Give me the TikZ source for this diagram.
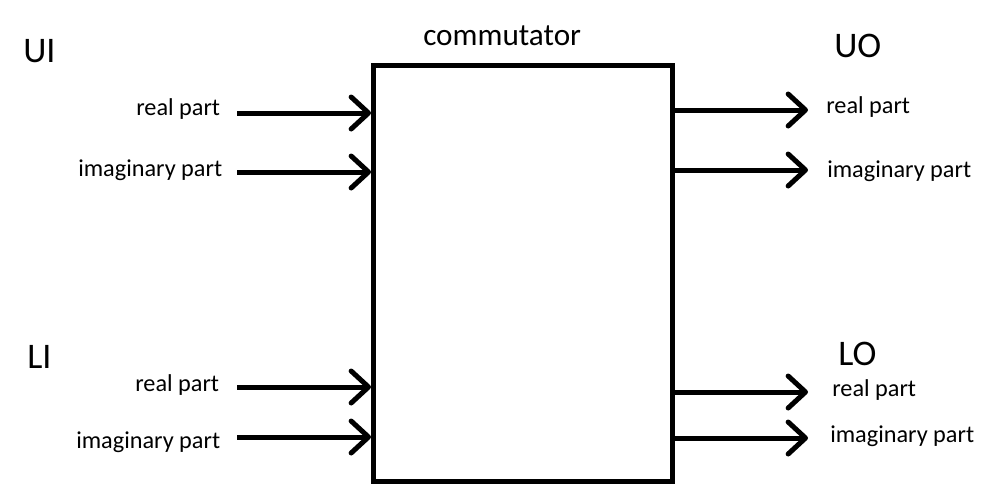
\documentclass[tikz,border=0pt]{standalone}
\usepackage{fontspec}
\setmainfont{Carlito}
\usetikzlibrary{arrows.meta}
\tikzset{
  lbl/.style={anchor=base west, inner sep=0pt, font=\fontsize{18.2pt}{21pt}\selectfont},
  big/.style={anchor=base west, inner sep=0pt, font=\fontsize{27pt}{31pt}\selectfont},
  title/.style={anchor=base west, inner sep=0pt, font=\fontsize{23.4pt}{27pt}\selectfont},
  sig/.style={line width=3.75pt, -{Straight Barb[length=13pt, width=24pt, line cap=round, line join=round]}},
  boxst/.style={draw, line width=3.75pt, minimum width=298.5*0.75pt, minimum height=416*0.75pt, inner sep=0pt}
}
\begin{document}
\begin{tikzpicture}[x=0.75pt,y=-0.75pt]
\useasboundingbox (0,0) rectangle (987,496);
\node[boxst] (box) at (522.75,273.5) {};
\node[title] (ttl) at (423,45) {commutator};
\node[big] (ui) at (23,62) {UI};
\node[big] (uo) at (834,57) {UO};
\node[big] (li) at (27,368) {LI};
\node[big] (lo) at (838,365) {LO};
% left labels
\node[lbl] (l1) at (136,115) {real part};
\node[lbl] (l2) at (78,176) {imaginary part};
\node[lbl] (l3) at (135,391) {real part};
\node[lbl] (l4) at (76,448) {imaginary part};
% right labels
\node[lbl] (r1) at (826,113) {real part};
\node[lbl] (r2) at (827,177) {imaginary part};
\node[lbl] (r3) at (832,396) {real part};
\node[lbl] (r4) at (830,442) {imaginary part};
% arrow endpoints
\coordinate (a1) at (237,113);
\coordinate (a2) at (237,172);
\coordinate (a3) at (237,387);
\coordinate (a4) at (237,437);
\coordinate (b1) at (808,110);
\coordinate (b2) at (808,170);
\coordinate (b3) at (808,392);
\coordinate (b4) at (808,438);
\draw[sig] (a1) -- (a1 -| box.west);
\draw[sig] (a2) -- (a2 -| box.west);
\draw[sig] (a3) -- (a3 -| box.west);
\draw[sig] (a4) -- (a4 -| box.west);
\draw[sig] (b1 -| box.east) -- (b1);
\draw[sig] (b2 -| box.east) -- (b2);
\draw[sig] (b3 -| box.east) -- (b3);
\draw[sig] (b4 -| box.east) -- (b4);
\end{tikzpicture}
\end{document}
